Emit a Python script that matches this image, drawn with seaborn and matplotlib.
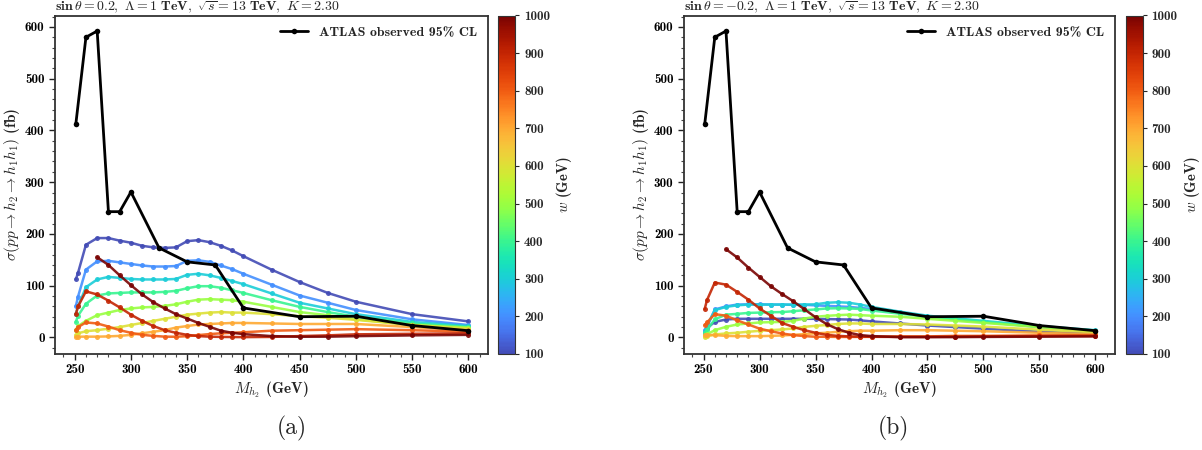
import numpy as np
import pandas as pd
import matplotlib
matplotlib.use("Agg")
import matplotlib.pyplot as plt
from matplotlib.colors import ListedColormap, Normalize
from matplotlib.ticker import MultipleLocator
import seaborn as sns

# ---------------- data ----------------
M_grid = [251, 253, 260, 270, 280, 290, 300, 310, 320, 330, 340, 350, 360, 370,
          380, 390, 400, 425, 450, 475, 500, 550, 600]
w_values = [100, 200, 300, 400, 500, 600, 700, 800, 900, 1000]
nan = np.nan

# sin(theta) = 0.2
sig_a_100 = [112, 125, 179, 192, 192, 187, 183, 177, 174, 173, 174, 186, 188, 184, 177, 168, 157, 131, 107, 86, 69, 45, 31]
sig_a_200 = [60, 79, 131, 147, 148, 145, 142, 139, 137, 137, 138, 148, 149, 146, 139, 132, 123, 102, 81, 67, 53, 35, 24]
sig_a_300 = [45, 60, 97, 112, 117, 115, 113, 112, 112, 112, 113, 121, 123, 120, 115, 109, 103, 85, 67, 56, 45, 30, 22]
sig_a_400 = [30, 42, 65, 81, 85, 86, 87, 87, 87, 88, 90, 95, 99, 99, 96, 91, 86, 72, 59, 49, 40, 27, 20]
sig_a_500 = [15, 22, 32, 43, 48, 53, 56, 58, 59, 61, 64, 69, 73, 74, 73, 72, 69, 59, 49, 43, 35, 24, 19]
sig_a_600 = [5, 8, 12, 14, 17, 20, 24, 28, 32, 36, 40, 44, 46, 48, 49, 48, 48, 45, 41, 38, 34, 24, 17]
sig_a_700 = [1, 1.5, 1.5, 1.5, 2, 3, 5, 8, 11, 14, 19, 22, 25, 26, 27, 28, 28, 27, 26, 26, 26, 20, 14]
sig_a_800 = [14, 20, 29, 27, 21, 14, 9, 5, 3, 1.5, 1.3, 2.5, 4.5, 6.5, 8, 9, 10, 13, 14, 15, 16, 14, 11]
sig_a_900 = [45, 60, 89, 83, 71, 58, 44, 32, 22, 14, 9, 5, 2.6, 1.5, 1, 0.8, 0.6, 1, 2.6, 4, 6, 7, 8]
sig_a_1000 = [nan, nan, nan, 155, 140, 120, 101, 83, 68, 56, 45, 36.5, 28, 20.5, 13, 9, 6.4, 2.6, 1.3, 1.5, 2.5, 4, 5]

# sin(theta) = -0.2
sig_b_100 = [8, 18, 30, 34.6, 36, 36, 36, 36, 36, 36, 36, 36, 35.5, 35, 34.6, 33, 31, 27, 23, 20, 17, 11, 7]
sig_b_200 = [14, 20, 54, 60, 63.5, 64, 64, 63.5, 63.5, 63, 63, 62, 61, 60, 59, 57, 55, 48, 40, 35, 30, 20, 12]
sig_b_300 = [11, 22, 52.6, 59, 62, 63.5, 63.5, 63.5, 63.5, 63.5, 63.5, 64, 67, 68, 67, 63.5, 59, 50, 42, 37, 32, 22, 14]
sig_b_400 = [8, 14, 35, 44, 45.5, 47.4, 48, 48.7, 49, 50.6, 52.6, 54, 56, 56.4, 56, 55, 52, 46, 40, 35, 30, 21, 13]
sig_b_500 = [3, 6, 14, 20.5, 25, 27, 29, 29.5, 30, 32, 36.5, 40, 41.7, 43, 44, 43, 42, 40, 36, 32, 28, 20, 12]
sig_b_600 = [1, 2, 5.8, 7.7, 9, 11, 12.8, 14, 15.4, 17.3, 20.5, 22.4, 24, 26, 27, 27, 26, 26, 25, 23, 21, 15, 10]
sig_b_700 = [5, 5, 4.5, 3, 2.5, 2.5, 2.5, 3, 3.8, 5, 6.4, 8, 9, 11, 12, 13, 13, 14, 14, 13, 12, 9, 6]
sig_b_800 = [24, 29, 45, 42, 33, 25, 17, 12, 7.7, 4.5, 2.6, 1.3, 1.3, 1, 1, 1, 1.2, 2, 2, 3, 3, 4, 4]
sig_b_900 = [55, 72, 106, 102, 88, 73, 56, 42, 28, 20.5, 14, 9, 5, 3, 2, 1.5, 1.2, 1, 1, 1.5, 2, 2.5, 3]
sig_b_1000 = [nan, nan, nan, 170.5, 154.5, 135, 117, 99, 84, 70, 54.5, 39, 25.6, 16, 9, 4.5, 2.6, 0.6, 0.6, 0.6, 1, 1.5, 2]

# ATLAS observed 95% CL limit
M_atlas = [251, 260, 270, 280, 290, 300, 325, 350, 375, 400, 450, 500, 550, 600]
sig_atlas = [412, 580, 592, 243, 243, 281, 173, 146, 140, 57, 40, 41, 23, 13]

titles = [r"$\mathbf{sin}\,\theta=\mathbf{0.2},\ \mathbf{\Lambda=1\ TeV},\ \sqrt{s}=\mathbf{13\ TeV},\ K=\mathbf{2.30}$",
          r"$\mathbf{sin}\,\theta=\mathbf{-0.2},\ \mathbf{\Lambda=1\ TeV},\ \sqrt{s}=\mathbf{13\ TeV},\ K=\mathbf{2.30}$"]
captions = ["(a)", "(b)"]

panel_a = [sig_a_100, sig_a_200, sig_a_300, sig_a_400, sig_a_500,
           sig_a_600, sig_a_700, sig_a_800, sig_a_900, sig_a_1000]
panel_b = [sig_b_100, sig_b_200, sig_b_300, sig_b_400, sig_b_500,
           sig_b_600, sig_b_700, sig_b_800, sig_b_900, sig_b_1000]


def long_frame(series_list):
    rows = []
    for w, ys in zip(w_values, series_list):
        for m, y in zip(M_grid, ys):
            if not np.isnan(y):
                rows.append((m, y, w))
    return pd.DataFrame(rows, columns=["M", "sigma", "w"])


# ---------------- style ----------------
sns.set_style("ticks")
plt.rcParams["font.family"] = ["cmb10", "DejaVu Serif"]
plt.rcParams["mathtext.fontset"] = "cm"
plt.rcParams["axes.unicode_minus"] = False
plt.rcParams["axes.edgecolor"] = "#333333"
plt.rcParams["axes.linewidth"] = 1.3

turbo = plt.get_cmap("turbo")
cmap = ListedColormap(turbo(np.linspace(0.08, 1.0, 256)))
norm = Normalize(vmin=100, vmax=1000)

fig = plt.figure(figsize=(12.02, 4.5), dpi=100)
W, H = 1202.0, 450.0
ax_boxes = [(55, 15.5, 488, 354), (684, 15.5, 1115, 354)]
cb_boxes = [(498, 15.5, 515, 354), (1125.5, 15.5, 1142.5, 354)]
cap_x = [292, 893]

atlas_df = pd.DataFrame({"M": M_atlas, "sigma": sig_atlas})

for i, panel in enumerate([panel_a, panel_b]):
    x0, y0, x1, y1 = ax_boxes[i]
    ax = fig.add_axes([x0 / W, 1 - y1 / H, (x1 - x0) / W, (y1 - y0) / H])
    df = long_frame(panel)
    sns.lineplot(data=df, x="M", y="sigma", hue="w", palette=cmap, hue_norm=norm,
                 estimator=None, units="w", sort=True, marker="o", markersize=3.6,
                 markeredgewidth=0, linewidth=1.8, alpha=0.9, legend=False, ax=ax)
    sns.lineplot(data=atlas_df, x="M", y="sigma", color="black", marker="o",
                 markersize=4, markeredgewidth=0, linewidth=2.0,
                 label="ATLAS observed 95% CL", ax=ax)
    ax.set_xticks([250, 300, 350, 400, 450, 500, 550, 600])
    ax.set_yticks([0, 100, 200, 300, 400, 500, 600])
    ax.xaxis.set_minor_locator(MultipleLocator(10))
    ax.yaxis.set_minor_locator(MultipleLocator(20))
    ax.tick_params(axis="both", which="major", labelsize=9.5, length=4, width=1.0, colors="#222222")
    ax.tick_params(axis="both", which="minor", length=2, width=0.8, colors="#444444")
    for lab in ax.get_xticklabels() + ax.get_yticklabels():
        lab.set_color("black")
    ax.set_xlabel(r"$M_{h_2}$ (GeV)", fontsize=11, labelpad=2)
    ax.set_ylabel(r"$\sigma(pp\rightarrow h_2\rightarrow h_1h_1)$ (fb)", fontsize=11, labelpad=2)
    ax.set_title(titles[i], loc="left", fontsize=10, pad=3)
    ax.legend(loc="upper right", frameon=False, fontsize=10, handlelength=2.0,
              borderaxespad=0.4)
    ax.set_xlim(232.5, 617.5)
    ax.set_ylim(-32, 622)

    c0, cy0, c1, cy1 = cb_boxes[i]
    cax = fig.add_axes([c0 / W, 1 - cy1 / H, (c1 - c0) / W, (cy1 - cy0) / H])
    sm = plt.cm.ScalarMappable(norm=norm, cmap=cmap)
    cb = fig.colorbar(sm, cax=cax)
    cb.set_ticks([100, 200, 300, 400, 500, 600, 700, 800, 900, 1000])
    cb.ax.tick_params(labelsize=9.5, length=3, width=0.8)
    cb.outline.set_linewidth(0.8)
    cb.set_label(r"$w$ (GeV)", fontsize=10.5, labelpad=3)

    fig.text(cap_x[i] / W, 1 - 428 / H, captions[i], ha="center", va="center",
             fontsize=17, family=["cmr10", "DejaVu Serif"])

fig.savefig("out.png", dpi=100)
